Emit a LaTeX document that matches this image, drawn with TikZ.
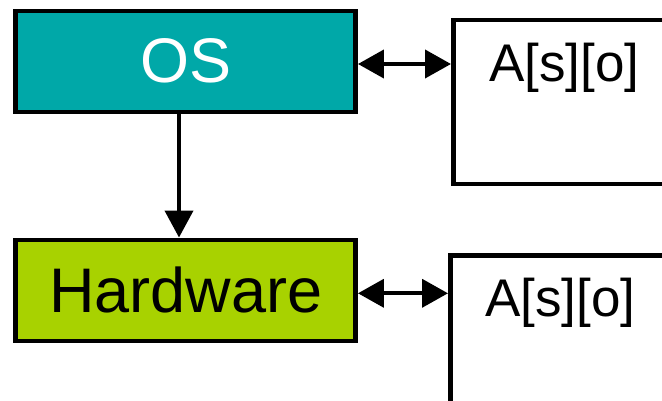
\documentclass[tikz,border=0pt]{standalone}
\usepackage{fontspec}
\setmainfont{Liberation Sans}
\usetikzlibrary{arrows.meta}
\definecolor{osteal}{RGB}{0,168,168}
\definecolor{hwlime}{RGB}{168,210,0}
\tikzset{
  box/.style={draw=black, line width=4.5pt, rectangle, minimum width=340pt, minimum height=101pt, inner sep=0pt, font=\fontsize{63}{70}\selectfont},
  openbox/.style={draw=black, line width=4.5pt, rectangle, inner sep=0pt, anchor=north west},
  conn/.style={line width=4pt, draw=black},
  dbl/.style={conn, {Triangle[length=26pt,width=28pt]}-{Triangle[length=26pt,width=28pt]}},
  down/.style={conn, -{Triangle[length=27pt,width=28pt]}},
  lbl/.style={font=\fontsize{53}{60}\selectfont, anchor=base west, inner sep=0pt}
}
\begin{document}
\begin{tikzpicture}[x=1pt,y=-1pt]
\useasboundingbox (0,0) rectangle (662,401);
\clip (0,0) rectangle (662,401);
\node[box, fill=osteal, text=white, text height=46pt, text depth=4pt] (os) at (185.7,61.6) {OS};
\node[box, fill=hwlime, text=black, text height=48pt, text depth=3.2pt] (hw) at (185.7,290.3) {Hardware};
\node[openbox, minimum width=400pt, minimum height=163.7pt] (r1) at (451,18) {};
\node[openbox, minimum width=400pt, minimum height=300pt] (r2) at (448,253.3) {};
\node[lbl] (l1) at (489,81.5) {A[s][o]};
\node[lbl] (l2) at (485,316.5) {A[s][o]};
\draw[dbl] ([yshift=-2.4pt]os.east) -- ([yshift=-2.4pt]os.east -| r1.west);
\draw[dbl] ([yshift=-3pt]hw.east) -- ([yshift=-3pt]hw.east -| r2.west);
\draw[down] ([xshift=-6.7pt]os.south) -- ([xshift=-6.7pt]hw.north);
\end{tikzpicture}
\end{document}
